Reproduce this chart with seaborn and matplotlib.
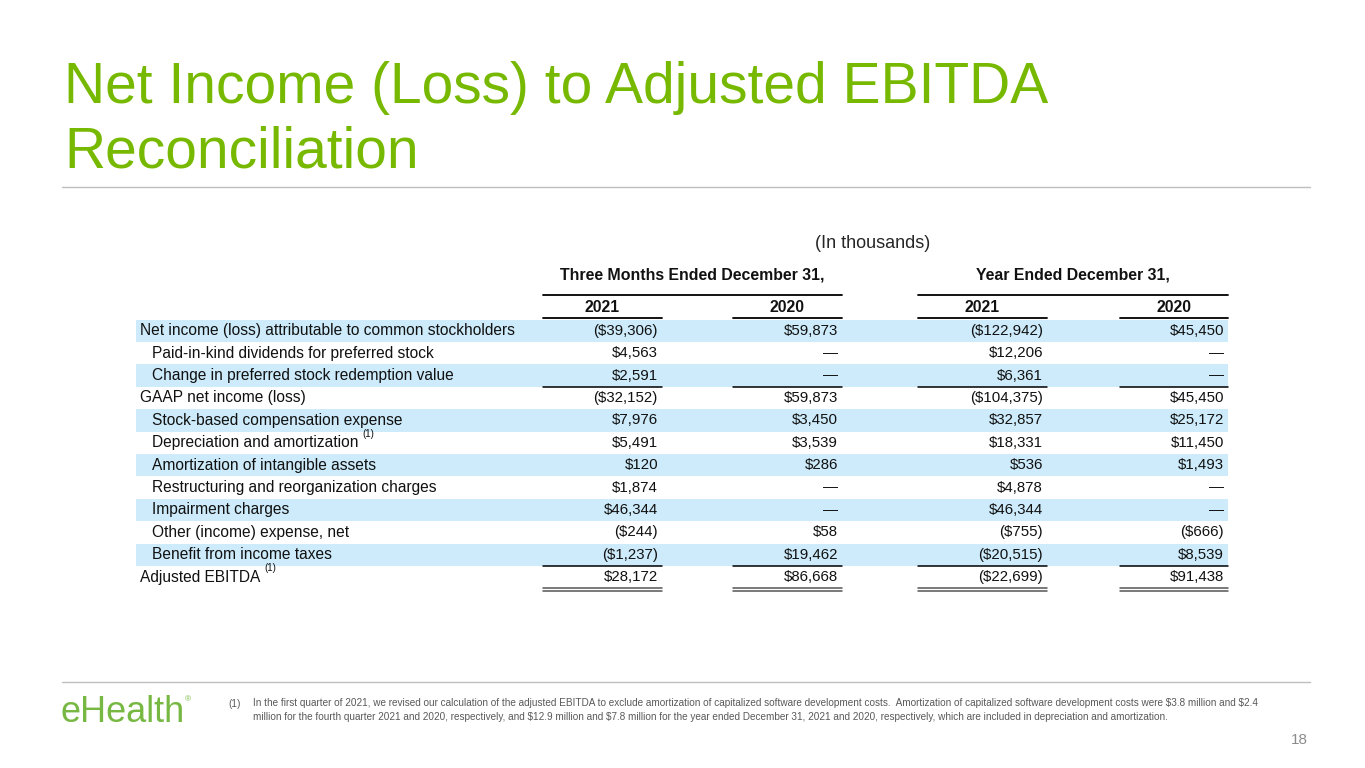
import numpy as np
import pandas as pd
import matplotlib
matplotlib.use("Agg")
import matplotlib.pyplot as plt
import seaborn as sns

# --- data -------------------------------------------------------------
row_labels = [
    "Net income (loss) attributable to common stockholders",
    "Paid-in-kind dividends for preferred stock",
    "Change in preferred stock redemption value",
    "GAAP net income (loss)",
    "Stock-based compensation expense",
    "Depreciation and amortization",
    "Amortization of intangible assets",
    "Restructuring and reorganization charges",
    "Impairment charges",
    "Other (income) expense, net",
    "Benefit from income taxes",
    "Adjusted EBITDA",
]
indented = [0, 1, 1, 0, 1, 1, 1, 1, 1, 1, 1, 0]
footnoted = [0, 0, 0, 0, 0, 1, 0, 0, 0, 0, 0, 1]

q4_2021 = [-39306, 4563, 2591, -32152, 7976, 5491, 120, 1874, 46344, -244, -1237, 28172]
q4_2020 = [59873, None, None, 59873, 3450, 3539, 286, None, None, 58, 19462, 86668]
fy_2021 = [-122942, 12206, 6361, -104375, 32857, 18331, 536, 4878, 46344, -755, -20515, -22699]
fy_2020 = [45450, None, None, 45450, 25172, 11450, 1493, None, None, -666, 8539, 91438]

col_years = ["2021", "2020", "2021", "2020"]
group_titles = ["Three Months Ended December 31,", "Year Ended December 31,"]

footnote = ("In the first quarter of 2021, we revised our calculation of the adjusted EBITDA to exclude "
            "amortization of capitalized software development costs.  Amortization of capitalized software "
            "development costs were $3.8 million and $2.4\nmillion for the fourth quarter 2021 and 2020, "
            "respectively, and $12.9 million and $7.8 million for the year ended December 31, 2021 and 2020, "
            "respectively, which are included in depreciation and amortization.")

df = pd.DataFrame({"label": row_labels, "indent": indented, "note": footnoted,
                   "c0": q4_2021, "c1": q4_2020, "c2": fy_2021, "c3": fy_2020})


def fmt(v):
    if v is None or pd.isna(v):
        return "\u2014"
    v = int(v)
    return f"(${-v:,})" if v < 0 else f"${v:,}"


# --- style ------------------------------------------------------------
sns.set_theme(style="white")
plt.rcParams["font.family"] = ["Liberation Sans", "DejaVu Sans"]

GREEN = "#76b900"
BLUE = "#cdebfa"
TXT = "#111111"
GRAY = "#595959"
FS_LAB = 11.2
FS_VAL = 10.8
FS_HEAD = 11.4

fig = plt.figure(figsize=(13.65, 7.68), dpi=100)
page = fig.add_axes([0, 0, 1, 1])
page.set_xlim(0, 1365)
page.set_ylim(768, 0)
page.axis("off")

# title
page.text(64, 103, "Net Income (Loss) to Adjusted EBITDA", color=GREEN, fontsize=41, va="baseline")
page.text(64, 168, "Reconciliation", color=GREEN, fontsize=41, va="baseline")
page.plot([62, 1310], [187, 187], color="#bfbfbf", lw=1)

# column layout (pixels)
col_spans = [(543, 662), (733, 842), (918, 1047), (1120, 1228)]
group_spans = [(543, 842), (918, 1228)]

page.text(873, 243, "(In thousands)", color="#262626", fontsize=13, ha="center", va="center")
for (a, b), t in zip(group_spans, group_titles):
    page.text((a + b) / 2, 275, t, fontsize=FS_HEAD, fontweight="bold", color=TXT,
              ha="center", va="center", parse_math=False)
    page.plot([a, b], [295, 295], color="black", lw=1.3)
for (a, b), y in zip(col_spans, col_years):
    page.text((a + b) / 2, 308, y, fontsize=FS_HEAD, fontweight="bold", color=TXT, ha="center", va="center")
    page.plot([a, b], [318, 318], color="black", lw=1.3)

# table body: y axis in row units
top_px, bot_px = 319.5, 588.3
tab = fig.add_axes([0, 1 - bot_px / 768, 1, (bot_px - top_px) / 768])
tab.set_xlim(0, 1365)
tab.set_ylim(len(df) - 0.5, -0.5)
tab.axis("off")

idx = np.arange(len(df))
shaded = idx[idx % 2 == 0]
tab.barh(shaded, 1228 - 136, left=136, height=1.0, color=BLUE, edgecolor="none")

for i, r in df.iterrows():
    x = 152 if r["indent"] else 140
    t = tab.text(x, i, r["label"], fontsize=FS_LAB, color=TXT, ha="left", va="center")
    if r["note"]:
        tab.annotate("(1)", xy=(1, 0.78), xycoords=t, xytext=(3, 0), textcoords="offset points",
                     fontsize=7, color=TXT, ha="left", va="bottom")
    for k, (a, b) in enumerate(col_spans):
        tab.text(b - 4, i, fmt(r[f"c{k}"]), fontsize=FS_VAL, color=TXT, ha="right", va="center",
                 parse_math=False)

# subtotal / total rules
for a, b in col_spans:
    tab.plot([a, b], [2.5, 2.5], color="black", lw=1.1)
    tab.plot([a, b], [10.5, 10.5], color="black", lw=1.1)
    tab.plot([a, b], [11.5, 11.5], color="#555555", lw=1.1, clip_on=False)
    tab.plot([a, b], [11.62, 11.62], color="#555555", lw=1.1, clip_on=False)

# footer
page.plot([62, 1310], [682, 682], color="#bfbfbf", lw=1)
page.text(60, 722, "eHealth", color="#77b843", fontsize=26, va="baseline")
page.text(185, 700, "\u00ae", color="#77b843", fontsize=6, va="center")
page.text(228, 704, "(1)", color=GRAY, fontsize=7.2, va="center")
page.text(253, 698, footnote, color=GRAY, fontsize=7.2, va="top", linespacing=1.5,
          parse_math=False)
page.text(1308, 740, "18", color="#8c8c8c", fontsize=11, ha="right", va="center")

fig.savefig("out.png", dpi=100)
